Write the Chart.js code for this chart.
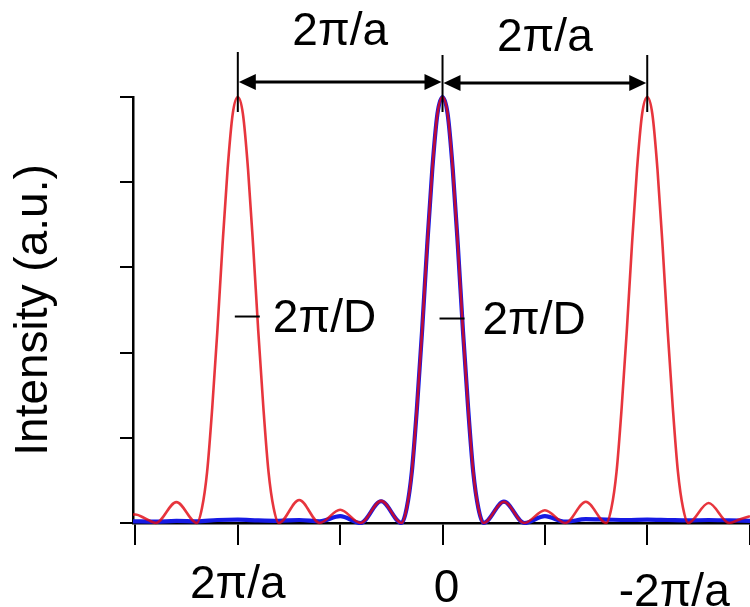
<!DOCTYPE html>
<html>
<head>
<meta charset="utf-8">
<script src="https://cdn.jsdelivr.net/npm/chart.js@4.4.0/dist/chart.umd.min.js"></script>
<style>
  html, body { margin: 0; padding: 0; background: #fff; }
  #wrap { width: 750px; height: 607px; }
</style>
</head>
<body>
<div id="wrap"><canvas id="pattern"></canvas></div>
<script>
// wave vector q in units of 2π/a, positive side drawn on the left
const gratingQ = [1.512, 1.5, 1.45, 1.4, 1.3, 1.2,
    1.175, 1.15, 1.125, 1.1, 1.075, 1.05, 1.025, 1, 0.975, 0.95, 0.925, 0.9, 0.875, 0.85, 0.825, 0.8,
    0.7, 0.6, 0.5, 0.4, 0.3, 0.2,
    0.175, 0.15, 0.125, 0.1, 0.075, 0.05, 0.025, 0, -0.025, -0.05, -0.075, -0.1, -0.125, -0.15, -0.175, -0.2,
    -0.3, -0.4, -0.5, -0.6, -0.7, -0.8,
    -0.825, -0.85, -0.875, -0.9, -0.925, -0.95, -0.975, -1, -1.025, -1.05, -1.075, -1.1, -1.125, -1.15, -1.175, -1.2,
    -1.3, -1.4, -1.45, -1.502];
const gratingI = [0.02, 0.02, 0.01, 0, 0.049, 0,
    0.035, 0.12, 0.27, 0.45, 0.65, 0.83, 0.96, 1, 0.96, 0.83, 0.65, 0.45, 0.27, 0.12, 0.035, 0,
    0.054, 0, 0.031, 0, 0.052, 0,
    0.035, 0.12, 0.27, 0.45, 0.65, 0.83, 0.96, 1, 0.96, 0.83, 0.65, 0.45, 0.27, 0.12, 0.035, 0,
    0.05, 0, 0.03, 0, 0.05, 0,
    0.035, 0.12, 0.27, 0.45, 0.65, 0.83, 0.96, 1, 0.96, 0.83, 0.65, 0.45, 0.27, 0.12, 0.035, 0,
    0.047, 0, 0.008, 0.016];

const slitQ = [1.512, 1.4, 1.3, 1.2, 1.1, 1.0, 0.9, 0.8, 0.7, 0.6, 0.5, 0.4, 0.3, 0.2,
    0.175, 0.15, 0.125, 0.1, 0.075, 0.05, 0.025, 0, -0.025, -0.05, -0.075, -0.1, -0.125, -0.15, -0.175, -0.2,
    -0.3, -0.4, -0.5, -0.6, -0.7, -0.8, -0.9, -1.0, -1.1, -1.2, -1.3, -1.4, -1.502];
const slitI = [0.004, 0.003, 0.005, 0.004, 0.007, 0.008, 0.006, 0.005, 0.007, 0.004, 0.016, 0, 0.051, 0,
    0.035, 0.12, 0.27, 0.45, 0.65, 0.83, 0.96, 1, 0.96, 0.83, 0.65, 0.45, 0.27, 0.12, 0.035, 0,
    0.05, 0, 0.016, 0.003, 0.009, 0.008, 0.007, 0.008, 0.007, 0.006, 0.007, 0.006, 0.005];

const xTickValues = [1.5, 1, 0.5, 0, -0.5, -1, -1.5];
const xLabelValues = [1, 0, -1];
const xLabels = ['2π/a', '0', '-2π/a'];
const yTickValues = [0, 0.2, 0.4, 0.6, 0.8, 1];
const yTitle = 'Intensity (a.u.)';

const periodPeaks = [1, 0, -1];
const periodLabel = '2π/a';
const widthPeaks = [1, 0];
const widthLabel = '2π/D';

const FONT = '"Liberation Sans", Arial, sans-serif';
const RED = 'rgba(226, 8, 18, 0.82)';
const BLUE = 'rgb(22, 26, 228)';

function toPoints(qs, vals) {
    return qs.map((q, i) => ({ x: q, y: vals[i] }));
}

function arrowHead(ctx, x, y, dir) {
    // dir = 1 points right, -1 points left
    ctx.beginPath();
    ctx.moveTo(x, y);
    ctx.lineTo(x - dir * 17, y - 8);
    ctx.lineTo(x - dir * 17, y + 8);
    ctx.closePath();
    ctx.fill();
}

// period arrows, peak width marks and the q labels under the axis
const markPlugin = {
    id: 'marks',
    afterDraw(chart) {
        const { ctx, scales: { x, y } } = chart;
        const top = y.getPixelForValue(1);
        ctx.save();
        ctx.strokeStyle = '#000';
        ctx.fillStyle = '#000';
        ctx.lineWidth = 2;
        ctx.font = '46px ' + FONT;
        ctx.textAlign = 'center';
        ctx.textBaseline = 'alphabetic';

        const peakX = periodPeaks.map(q => x.getPixelForValue(q));
        peakX.forEach((px, i) => {
            ctx.beginPath();
            ctx.moveTo(px, top - (i === 0 ? 45 : 42));
            ctx.lineTo(px, top + 15);
            ctx.stroke();
        });
        for (let i = 0; i < peakX.length - 1; i++) {
            const ay = top - 15 + i;
            const x0 = peakX[i] + 1, x1 = peakX[i + 1] - 1;
            ctx.lineWidth = 3;
            ctx.beginPath();
            ctx.moveTo(x0 + 10, ay);
            ctx.lineTo(x1 - 10, ay);
            ctx.stroke();
            arrowHead(ctx, x0, ay, -1);
            arrowHead(ctx, x1, ay, 1);
            ctx.fillText(periodLabel, (x0 + x1) / 2, top - 52 + i * 6);
        }

        ctx.lineWidth = 2;
        ctx.textAlign = 'left';
        widthPeaks.forEach((q, i) => {
            const px = x.getPixelForValue(q);
            const my = y.getPixelForValue(0.48) - 2 + i * 2;
            ctx.beginPath();
            ctx.moveTo(px - 3, my);
            ctx.lineTo(px + 22, my);
            ctx.stroke();
            ctx.fillText(widthLabel, px + 35 + i * 5, my + 15);
        });

        ctx.textAlign = 'center';
        const shift = [0, 4, 27];
        const base = [598, 602, 606];
        xLabelValues.forEach((q, i) => {
            ctx.fillText(xLabels[i], x.getPixelForValue(q) + shift[i], base[i]);
        });
        ctx.restore();
    }
};

const ctx = document.getElementById('pattern').getContext('2d');
new Chart(ctx, {
    type: 'line',
    data: {
        datasets: [{
            label: 'grating',
            data: toPoints(gratingQ, gratingI),
            borderColor: RED,
            borderWidth: 2.6,
            pointRadius: 0,
            cubicInterpolationMode: 'monotone',
            clip: false,
            order: 1
        }, {
            label: 'single aperture',
            data: toPoints(slitQ, slitI),
            borderColor: BLUE,
            borderWidth: 4.2,
            pointRadius: 0,
            cubicInterpolationMode: 'monotone',
            clip: false,
            order: 2
        }]
    },
    options: {
        responsive: true,
        maintainAspectRatio: false,
        animation: false,
        layout: { padding: { top: 97, right: 0, bottom: 0, left: 0 } },
        plugins: { legend: { display: false }, tooltip: { enabled: false } },
        scales: {
            x: {
                type: 'linear',
                reverse: true,
                min: -1.502,
                max: 1.512,
                afterBuildTicks: s => { s.ticks = xTickValues.map(v => ({ value: v })); },
                afterFit: s => { s.height = 84; },
                ticks: { display: false },
                grid: { drawOnChartArea: false, drawTicks: true, tickLength: 22, color: '#000', lineWidth: 2 },
                border: { color: '#000', width: 2.5 }
            },
            y: {
                min: 0,
                max: 1,
                afterBuildTicks: s => { s.ticks = yTickValues.map(v => ({ value: v })); },
                afterFit: s => { s.width = 133; },
                ticks: { display: false },
                grid: { drawOnChartArea: false, drawTicks: true, tickLength: 13, color: '#000', lineWidth: 2 },
                border: { color: '#000', width: 2.5 },
                title: {
                    display: true,
                    text: yTitle,
                    color: '#000',
                    font: { family: FONT, size: 46 },
                    padding: { top: 7, bottom: 0 }
                }
            }
        }
    },
    plugins: [markPlugin]
});
</script>
</body>
</html>
